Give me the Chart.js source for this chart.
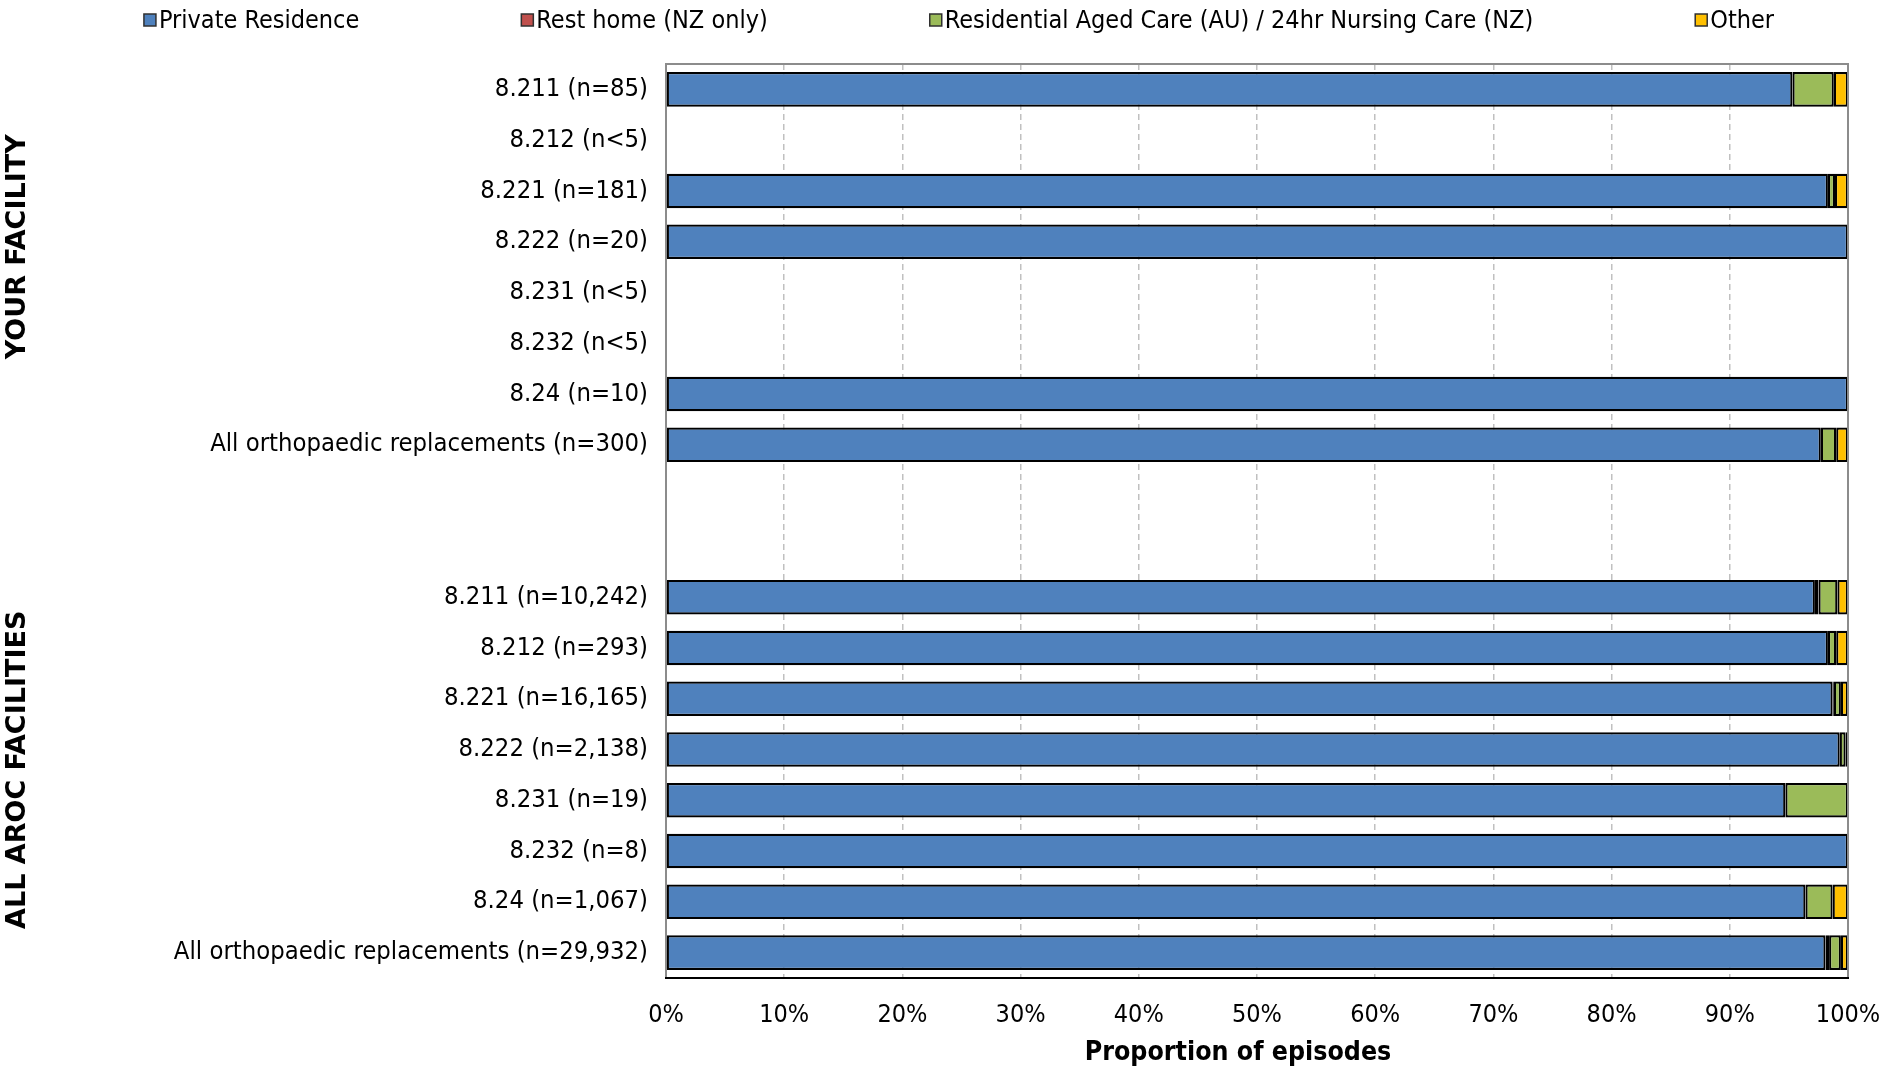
<!DOCTYPE html>
<html>
<head>
<meta charset="utf-8">
<script src="https://cdn.jsdelivr.net/npm/chart.js@4.4.1/dist/chart.umd.min.js"></script>
<style>
  html, body { margin: 0; padding: 0; background: #fff; }
  #wrap { width: 1884px; height: 1067px; position: relative; }
</style>
</head>
<body>
<div id="wrap"><canvas id="c" width="1884" height="1067"></canvas></div>
<script>
const categories = [
  "8.211 (n=85)", "8.212 (n<5)", "8.221 (n=181)", "8.222 (n=20)",
  "8.231 (n<5)", "8.232 (n<5)", "8.24 (n=10)", "All orthopaedic replacements (n=300)",
  "", "",
  "8.211 (n=10,242)", "8.212 (n=293)", "8.221 (n=16,165)", "8.222 (n=2,138)",
  "8.231 (n=19)", "8.232 (n=8)", "8.24 (n=1,067)", "All orthopaedic replacements (n=29,932)"
];
const privateResidence = [95.3, null, 98.3, 100, null, null, 100, 97.7, null, null, 97.2, 98.3, 98.7, 99.3, 94.7, 100, 96.4, 98.1];
const restHome         = [0,    null, 0,    0,   null, null, 0,   0,    null, null, 0.3,  0,    0.1,  0,    0,    0,   0,    0.3];
const residentialCare  = [3.5,  null, 0.6,  0,   null, null, 0,   1.3,  null, null, 1.6,  0.7,  0.6,  0.5,  5.3,  0,   2.3,  1.0];
const other            = [1.2,  null, 1.1,  0,   null, null, 0,   1.0,  null, null, 0.9,  1.0,  0.6,  0.2,  0,    0,   1.3,  0.6];
const seriesNames = ["Private Residence", "Rest home (NZ only)", "Residential Aged Care (AU) / 24hr Nursing Care (NZ)", "Other"];
const seriesColors = ["#4F81BD", "#C0504D", "#9BBB59", "#FFC000"];
const groupLabels = ["YOUR FACILITY", "ALL AROC FACILITIES"];
const xTicks = [0, 10, 20, 30, 40, 50, 60, 70, 80, 90, 100];
const xTitle = "Proportion of episodes";

const FONT = "'DejaVu Sans Condensed', 'Liberation Sans Narrow', 'DejaVu Sans', sans-serif";
Chart.defaults.font.family = FONT;
Chart.defaults.color = "#000";

const seriesData = [privateResidence, restHome, residentialCare, other];
const datasets = seriesData.map((d, i) => ({
  label: seriesNames[i],
  data: d,
  backgroundColor: seriesColors[i],
  borderColor: "#000",
  borderWidth: 2.2,
  borderSkipped: false,
  barPercentage: 0.68,
  categoryPercentage: 1.0
}));

const framePlugin = {
  id: "frame",
  afterDatasetsDraw(chart) {
    const {ctx, chartArea: a} = chart;
    ctx.save();
    ctx.strokeStyle = "#8c8c8c";
    ctx.lineWidth = 2;
    ctx.beginPath();
    ctx.moveTo(a.left, a.bottom);
    ctx.lineTo(a.left, a.top);
    ctx.lineTo(a.right, a.top);
    ctx.lineTo(a.right, a.bottom);
    ctx.stroke();
    ctx.strokeStyle = "#000";
    ctx.beginPath();
    ctx.moveTo(a.left - 1, a.bottom);
    ctx.lineTo(a.right + 1, a.bottom);
    ctx.stroke();
    ctx.restore();
  }
};

const textPlugin = {
  id: "texts",
  afterDraw(chart) {
    const {ctx, chartArea: a} = chart;
    const y = chart.scales.y;
    const centers = [y.getPixelForValue(3.1), y.getPixelForValue(13.4)];
    ctx.save();
    ctx.font = "bold 27px 'DejaVu Sans', sans-serif";
    ctx.fillStyle = "#000";
    ctx.textAlign = "center";
    ctx.textBaseline = "middle";
    groupLabels.forEach((t, i) => {
      ctx.save();
      ctx.translate(18, centers[i]);
      ctx.rotate(-Math.PI / 2);
      ctx.fillText(t, 0, 0);
      ctx.restore();
    });
    // x-axis title
    ctx.font = "bold 26.5px " + FONT;
    ctx.fillText(xTitle, (a.left + a.right) / 2 - 19, 1053);
    ctx.restore();
  }
};

const legendPlugin = {
  id: "customLegend",
  afterDraw(chart) {
    const {ctx} = chart;
    ctx.save();
    ctx.font = "25px " + FONT;
    ctx.textBaseline = "middle";
    const box = 12, gap = 3, spacing = 162;
    const widths = seriesNames.map(n => box + gap + ctx.measureText(n).width);
    const total = widths.reduce((s, w) => s + w, 0) + spacing * (widths.length - 1);
    let x = 959 - total / 2;
    const yc = 20;
    seriesNames.forEach((n, i) => {
      ctx.fillStyle = seriesColors[i];
      ctx.fillRect(x, yc - box / 2, box, box);
      ctx.strokeStyle = "#303030";
      ctx.lineWidth = 1.5;
      ctx.strokeRect(x, yc - box / 2, box, box);
      ctx.fillStyle = "#000";
      ctx.fillText(n, x + box + gap, yc + 1);
      x += widths[i] + spacing;
    });
    ctx.restore();
  }
};

new Chart(document.getElementById("c"), {
  type: "bar",
  data: { labels: categories, datasets },
  plugins: [framePlugin, textPlugin, legendPlugin],
  options: {
    indexAxis: "y",
    responsive: false,
    animation: false,
    layout: { padding: { top: 64, right: 36, left: 0, bottom: 0 } },
    plugins: { legend: { display: false }, tooltip: { enabled: false }, title: { display: false } },
    scales: {
      x: {
        stacked: true,
        min: 0, max: 100,
        afterBuildTicks(scale) { scale.ticks = xTicks.map(v => ({ value: v })); },
        afterFit(scale) { scale.height = 89; scale.paddingLeft = 0; scale.paddingRight = 0; },
        ticks: { callback: v => v + "%", font: { size: 25 }, padding: 22, color: "#000", maxRotation: 0 },
        grid: { color: "#c0c0c0", lineWidth: 1.5, drawTicks: false },
        border: { display: true, color: "#000", width: 2, dash: [6, 4] },
        title: { display: false }
      },
      y: {
        stacked: true,
        afterFit(scale) { scale.width = 666; },
        ticks: { font: { size: 25.4 }, padding: 18, color: "#000", autoSkip: false },
        grid: { display: false, drawTicks: false },
        border: { display: true, color: "#8c8c8c", width: 2 }
      }
    }
  }
});
</script>
</body>
</html>
